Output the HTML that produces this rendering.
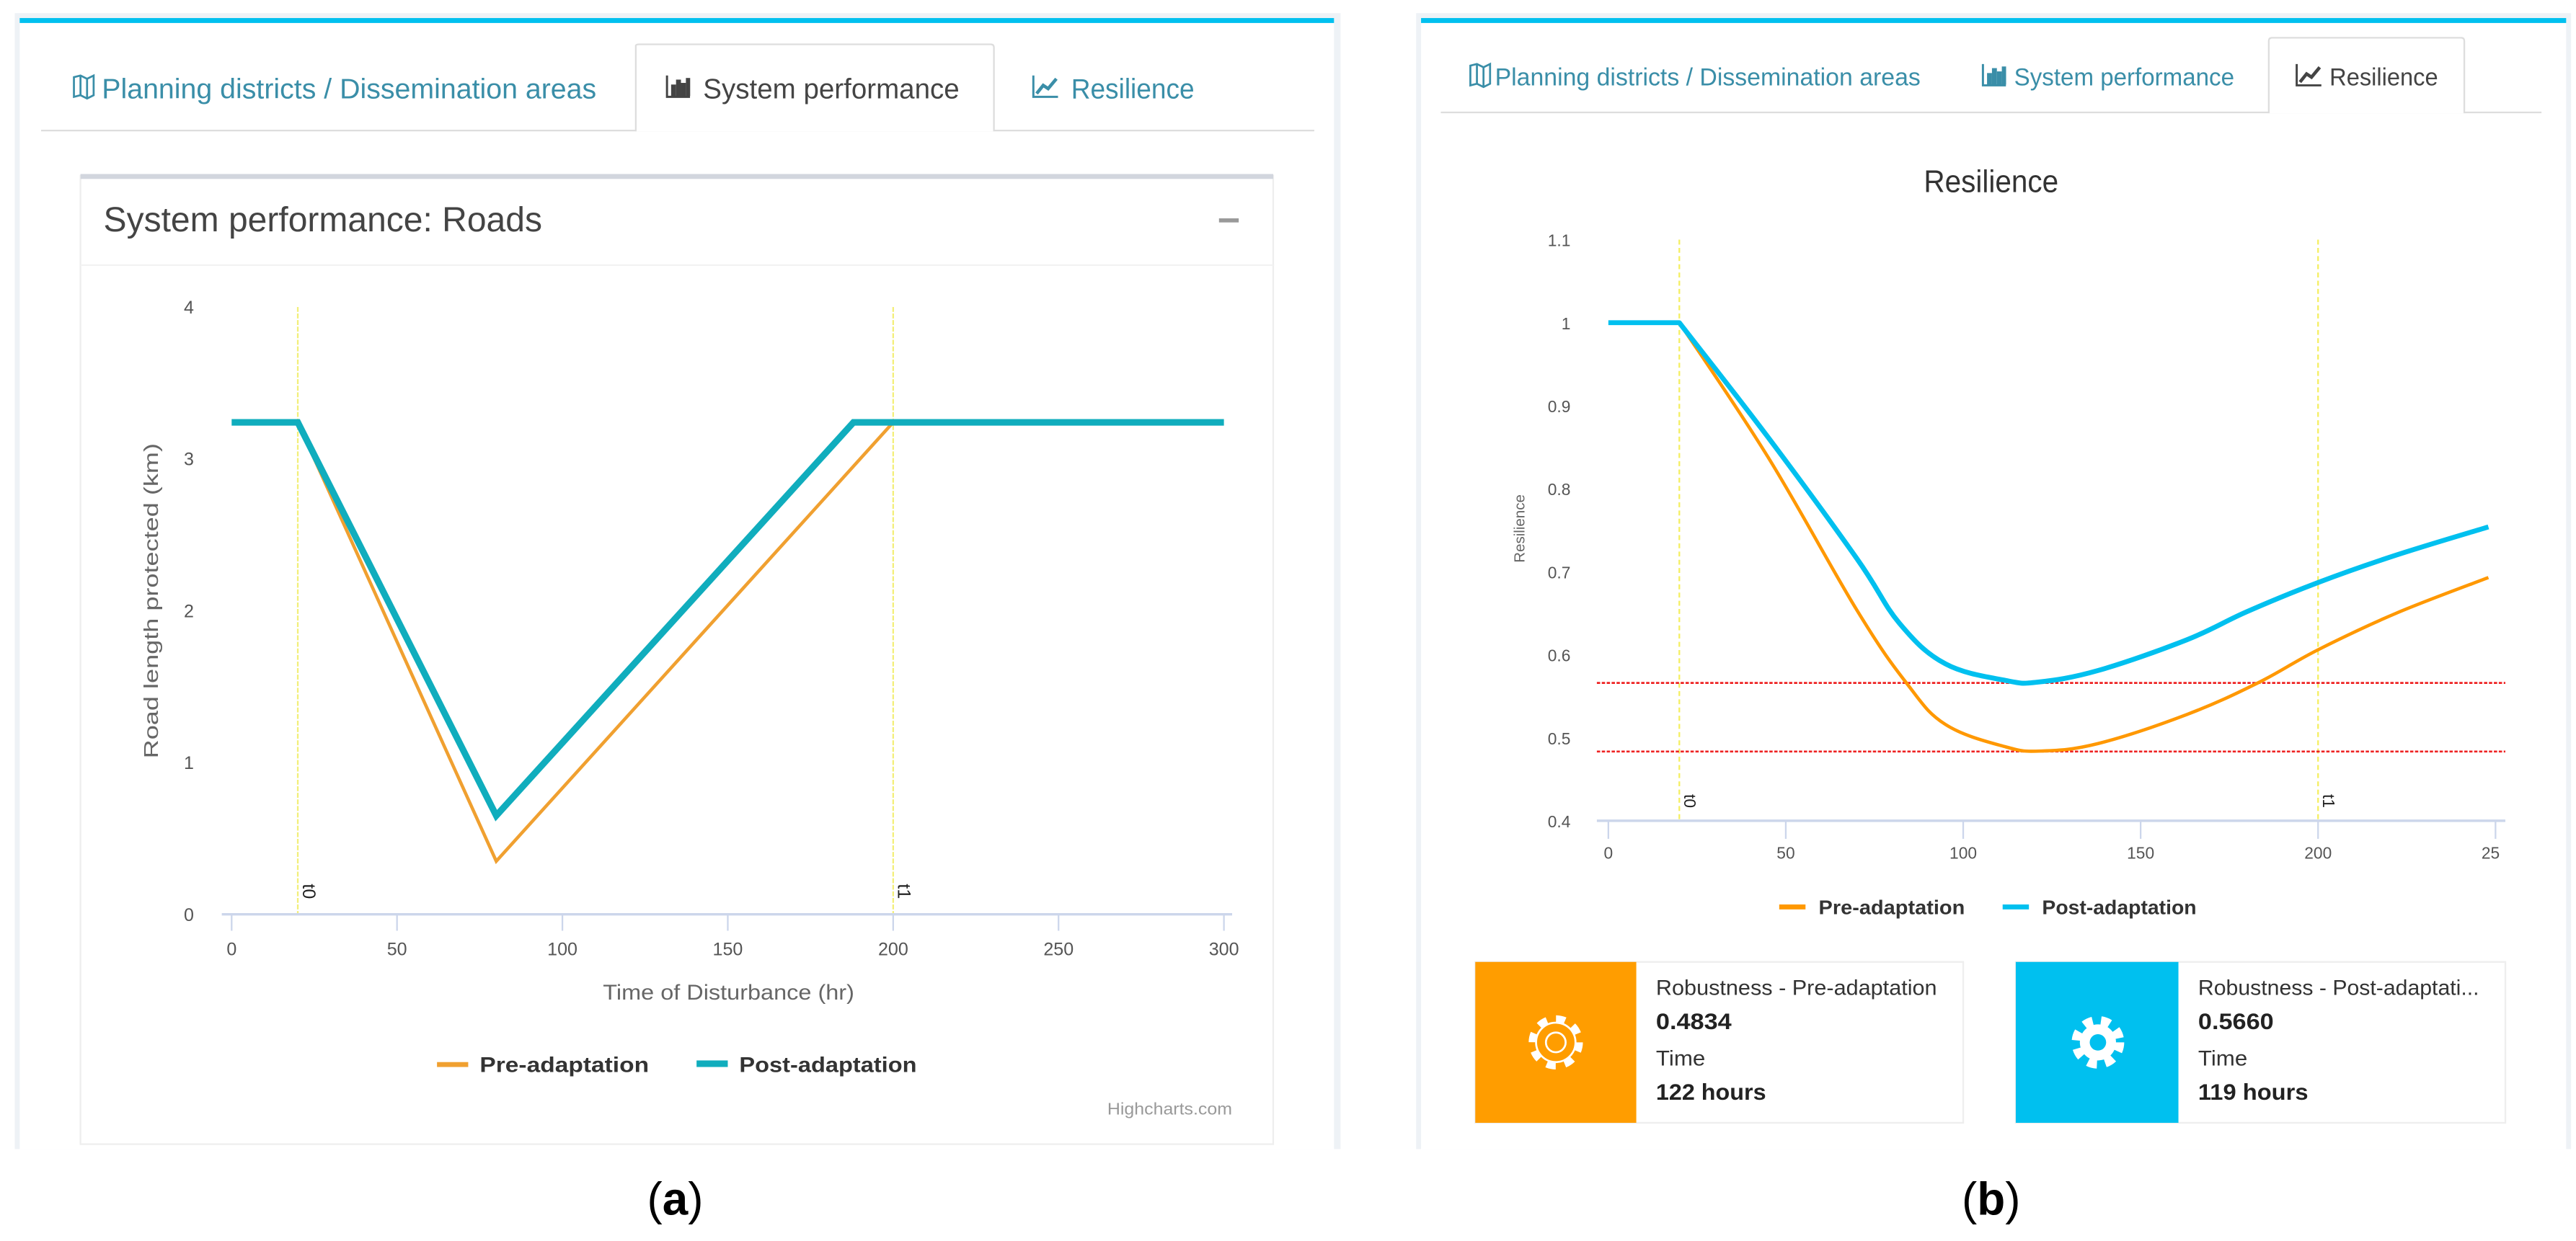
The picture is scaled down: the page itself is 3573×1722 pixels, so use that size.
<!DOCTYPE html>
<html><head><meta charset="utf-8">
<style>
html,body{margin:0;padding:0;background:#fff;}
svg{display:block;}
text{font-family:"Liberation Sans",sans-serif;}
</style></head>
<body>
<svg id="root" width="3573" height="1722" viewBox="0 0 1568 756" preserveAspectRatio="none" xmlns="http://www.w3.org/2000/svg">
  <defs>
    <g id="icoMap"><path d="M0 1 L4 0 L8 2 L12 0 V12 L8 14 L4 12 L0 13 Z M4 0 V12 M8 2 V14" fill="none" stroke-width="1.2"/></g>
    <g id="icoBar"><path d="M0 0 V13 H14" fill="none" stroke-width="1.3"/><rect x="3" y="6" width="2" height="6"/><rect x="6" y="3" width="2" height="9"/><rect x="9" y="5" width="2" height="7"/><rect x="12" y="2" width="1.6" height="10"/></g>
    <g id="icoLine"><path d="M0 0 V13 H15" fill="none" stroke-width="1.3"/><path d="M2 11 L6 6 L9 8 L14 2" fill="none" stroke-width="2"/></g>
  </defs>
  <rect x="0" y="0" width="1568" height="756" fill="#fff"/>
  <!-- Left panel -->
  <g>
    <rect x="9" y="8" width="807" height="692" fill="#eef2f6"/>
    <rect x="12" y="14" width="800" height="686" fill="#fff"/>
    <rect x="12" y="11" width="800" height="3" fill="#00c0ef"/>
    <line x1="25" y1="79.5" x2="800" y2="79.5" stroke="#ddd"/>
    <path d="M387 80 V28 Q387 27 389 27 H603 Q605 27 605 29 V80" fill="#fff" stroke="#ddd"/>
    <g>
      <use href="#icoMap" x="45" y="46" stroke="#3a8ea8" fill="#3a8ea8"/>
      <text x="62" y="60" font-size="17" fill="#3a8ea8" textLength="301" lengthAdjust="spacingAndGlyphs">Planning districts / Dissemination areas</text>
    </g>
    <g>
      <use href="#icoBar" x="406" y="46" stroke="#444" fill="#444"/>
      <text x="428" y="60" font-size="17" fill="#444" textLength="156" lengthAdjust="spacingAndGlyphs">System performance</text>
    </g>
    <g>
      <use href="#icoLine" x="629" y="46" stroke="#3a8ea8" fill="#3a8ea8"/>
      <text x="652" y="60" font-size="17" fill="#3a8ea8" textLength="75" lengthAdjust="spacingAndGlyphs">Resilience</text>
    </g>
    <rect x="49" y="107" width="726" height="590" fill="#fff" stroke="#eee"/>
    <rect x="49" y="106" width="726" height="3" fill="#d2d6de"/>
    <text x="63" y="141" font-size="21" fill="#444" textLength="267" lengthAdjust="spacingAndGlyphs">System performance: Roads</text>
    <rect x="742" y="133" width="12" height="2.5" fill="#999"/>
    <line x1="49" y1="161.5" x2="775" y2="161.5" stroke="#f2f2f2"/>
    <g id="chartA"></g>
  </g>
  <!-- Right panel -->
  <g>
    <rect x="862" y="8" width="703" height="692" fill="#eef2f6"/>
    <rect x="865" y="14" width="697" height="686" fill="#fff"/>
    <rect x="865" y="11" width="697" height="3" fill="#00c0ef"/>
    <line x1="877" y1="68.5" x2="1547" y2="68.5" stroke="#ddd"/>
    <path d="M1381 69 V25 Q1381 23 1383 23 H1498 Q1500 23 1500 25 V69" fill="#fff" stroke="#ddd"/>
    <g>
      <use href="#icoMap" x="895" y="39" stroke="#3a8ea8" fill="#3a8ea8"/>
      <text x="910" y="52" font-size="15" fill="#3a8ea8" textLength="259" lengthAdjust="spacingAndGlyphs">Planning districts / Dissemination areas</text>
    </g>
    <g>
      <use href="#icoBar" x="1207" y="39" stroke="#3a8ea8" fill="#3a8ea8"/>
      <text x="1226" y="52" font-size="15" fill="#3a8ea8" textLength="134" lengthAdjust="spacingAndGlyphs">System performance</text>
    </g>
    <g>
      <use href="#icoLine" x="1398" y="39" stroke="#444" fill="#444"/>
      <text x="1418" y="52" font-size="15" fill="#444" textLength="66" lengthAdjust="spacingAndGlyphs">Resilience</text>
    </g>
    <text x="1171" y="117" font-size="19" fill="#333" textLength="82" lengthAdjust="spacingAndGlyphs">Resilience</text>
    <g id="chartB"></g>
    <g>
      <rect x="898" y="586" width="297" height="98" fill="#fff" stroke="#eee"/>
      <rect x="898" y="586" width="98" height="98" fill="#ff9d00"/>
      <circle cx="947" cy="635" r="14" fill="none" stroke="#fff" stroke-width="5" stroke-dasharray="5.5 5.5"/>
      <circle cx="947" cy="635" r="12" fill="#ff9d00" stroke="#fff" stroke-width="1.2"/>
      <circle cx="947" cy="635" r="6" fill="none" stroke="#fff" stroke-width="1.2"/>
      <text x="1008" y="606" font-size="13" fill="#333" textLength="171" lengthAdjust="spacingAndGlyphs">Robustness - Pre-adaptation</text>
      <text x="1008" y="627" font-size="14" font-weight="bold" fill="#222" textLength="46" lengthAdjust="spacingAndGlyphs">0.4834</text>
      <text x="1008" y="649" font-size="13" fill="#333" textLength="30" lengthAdjust="spacingAndGlyphs">Time</text>
      <text x="1008" y="670" font-size="14" font-weight="bold" fill="#222" textLength="67" lengthAdjust="spacingAndGlyphs">122 hours</text>
    </g>
    <g>
      <rect x="1227" y="586" width="298" height="98" fill="#fff" stroke="#eee"/>
      <rect x="1227" y="586" width="99" height="98" fill="#00c0ef"/>
      <circle cx="1277" cy="635" r="13" fill="none" stroke="#fff" stroke-width="6" stroke-dasharray="5.5 5"/>
      <circle cx="1277" cy="635" r="11" fill="#fff"/>
      <circle cx="1277" cy="635" r="5" fill="#00c0ef"/>
      <text x="1338" y="606" font-size="13" fill="#333" textLength="171" lengthAdjust="spacingAndGlyphs">Robustness - Post-adaptati...</text>
      <text x="1338" y="627" font-size="14" font-weight="bold" fill="#222" textLength="46" lengthAdjust="spacingAndGlyphs">0.5660</text>
      <text x="1338" y="649" font-size="13" fill="#333" textLength="30" lengthAdjust="spacingAndGlyphs">Time</text>
      <text x="1338" y="670" font-size="14" font-weight="bold" fill="#222" textLength="67" lengthAdjust="spacingAndGlyphs">119 hours</text>
    </g>
  </g>
  <text x="411" y="740" font-size="28" text-anchor="middle" font-family="Liberation Serif" fill="#000">(<tspan font-weight="bold">a</tspan>)</text>
  <text x="1212" y="740" font-size="28" text-anchor="middle" font-family="Liberation Serif" fill="#000">(<tspan font-weight="bold">b</tspan>)</text>
</svg>
<script>
// Chart A data
const aPostX = [0, 20, 80, 188, 300];
const aPostY = [3.24, 3.24, 0.65, 3.24, 3.24];
const aPreX = [20, 80, 200];
const aPreY = [3.24, 0.35, 3.24];
const aXTicks = [0, 50, 100, 150, 200, 250, 300];
const aYTicks = [0, 1, 2, 3, 4];
const aMarkers = [20, 200];
const aMarkerLabels = ['t0', 't1'];
// Chart B data
const bPostX = [0, 20, 45, 70, 82, 95, 112, 121, 138, 163, 180, 200, 222, 248];
const bPostY = [1.0, 1.0, 0.862, 0.716, 0.638, 0.589, 0.569, 0.567, 0.581, 0.618, 0.652, 0.687, 0.72, 0.754];
const bPreX = [20, 45, 70, 84, 95, 112, 122, 138, 163, 183, 200, 222, 248];
const bPreY = [1.0, 0.838, 0.654, 0.566, 0.516, 0.489, 0.484, 0.493, 0.528, 0.566, 0.606, 0.65, 0.693];
const bXTicks = [0, 50, 100, 150, 200, 250];
const bYTicks = [0.4, 0.5, 0.6, 0.7, 0.8, 0.9, 1, 1.1];
const bThresholds = [0.566, 0.4834];
const bMarkers = [20, 200];
const bMarkerLabels = ['t0', 't1'];

const NS = 'http://www.w3.org/2000/svg';
function mk(parent, tag, attrs, txt) {
  const e = document.createElementNS(NS, tag);
  for (const k in attrs) e.setAttribute(k, attrs[k]);
  if (txt !== undefined) e.textContent = txt;
  parent.appendChild(e);
  return e;
}
function smoothPath(pts) {
  let d = 'M' + pts[0][0] + ' ' + pts[0][1];
  for (let i = 0; i < pts.length - 1; i++) {
    const p0 = pts[Math.max(0, i - 1)], p1 = pts[i], p2 = pts[i + 1], p3 = pts[Math.min(pts.length - 1, i + 2)];
    const t = 0.18;
    const c1x = p1[0] + (p2[0] - p0[0]) * t, c1y = p1[1] + (p2[1] - p0[1]) * t;
    const c2x = p2[0] - (p3[0] - p1[0]) * t, c2y = p2[1] - (p3[1] - p1[1]) * t;
    d += ' C' + c1x + ' ' + c1y + ' ' + c2x + ' ' + c2y + ' ' + p2[0] + ' ' + p2[1];
  }
  return d;
}

// ---- Chart A ----
(function () {
  const g = document.getElementById('chartA');
  const xA = v => 141 + (v / 300) * 604;
  const yA = v => 557 - (v / 4) * 370;
  aYTicks.forEach(t => {
    const e = mk(g, 'text', {x: 118, y: yA(t) + 4, 'font-size': 11, fill: '#555', 'text-anchor': 'end'}, String(t));
    
    
  });
  aMarkers.forEach((m, i) => {
    const l = mk(g, 'line', {x1: xA(m), x2: xA(m), y1: 187, y2: 557, stroke: '#f3ef7a', 'stroke-width': 1, 'stroke-dasharray': '3,1'});
    
    
    const t = mk(g, 'text', {x: 0, y: 0, 'font-size': 11, fill: '#222', transform: `translate(${xA(m) + 3},${543}) rotate(90)`, 'text-anchor': 'middle'}, aMarkerLabels[i]);
    
    
  });
  const ax = mk(g, 'line', {x1: 135, x2: 750, y1: 557, y2: 557, stroke: '#ccd6eb', 'stroke-width': 1.5});
  
  
  aXTicks.forEach(t => {
    mk(g, 'line', {x1: xA(t), x2: xA(t), y1: 557, y2: 567, stroke: '#ccd6eb'});
    const e = mk(g, 'text', {x: xA(t), y: 582, 'font-size': 11, fill: '#555', 'text-anchor': 'middle'}, String(t));
    
    
  });
  const xt = mk(g, 'text', {x: 367, y: 609, 'font-size': 13, fill: '#666', textLength: 153, lengthAdjust: 'spacingAndGlyphs'}, 'Time of Disturbance (hr)');
  
  
  const yt = mk(g, 'text', {x: 0, y: 0, 'font-size': 12, fill: '#666', textLength: 192, lengthAdjust: 'spacingAndGlyphs', transform: 'translate(96,462) rotate(-90)'}, 'Road length protected (km)');
  
  
  const pre = mk(g, 'polyline', {points: aPreX.map((x, i) => xA(x) + ',' + yA(aPreY[i])).join(' '), fill: 'none', stroke: '#f0a030', 'stroke-width': 2});
  
  
  const post = mk(g, 'polyline', {points: aPostX.map((x, i) => xA(x) + ',' + yA(aPostY[i])).join(' '), fill: 'none', stroke: '#10adbd', 'stroke-width': 4});
  
  
  mk(g, 'rect', {x: 266, y: 647, width: 19, height: 3, fill: '#f0a030'});
  const l1 = mk(g, 'text', {x: 292, y: 653, 'font-size': 13, 'font-weight': 'bold', fill: '#333', textLength: 103, lengthAdjust: 'spacingAndGlyphs'}, 'Pre-adaptation');
  
  
  mk(g, 'rect', {x: 424, y: 646, width: 19, height: 4, fill: '#10adbd'});
  const l2 = mk(g, 'text', {x: 450, y: 653, 'font-size': 13, 'font-weight': 'bold', fill: '#333', textLength: 108, lengthAdjust: 'spacingAndGlyphs'}, 'Post-adaptation');
  
  
  const hc = mk(g, 'text', {x: 674, y: 679, 'font-size': 10, fill: '#999', textLength: 76, lengthAdjust: 'spacingAndGlyphs'}, 'Highcharts.com');
  
  
})();

// ---- Chart B ----
(function () {
  const g = document.getElementById('chartB');
  const xB = v => 979 + (v / 250) * 540;
  const yB = v => 500 - ((v - 0.4) / 0.7) * 354;
  bYTicks.forEach(t => {
    const e = mk(g, 'text', {x: 956, y: yB(t) + 4, 'font-size': 10, fill: '#555', 'text-anchor': 'end'}, String(t));
    
    
  });
  bMarkers.forEach((m, i) => {
    const l = mk(g, 'line', {x1: xB(m), x2: xB(m), y1: 146, y2: 500, stroke: '#f5ef60', 'stroke-width': 1, 'stroke-dasharray': '3,2'});
    
    
    const t = mk(g, 'text', {x: 0, y: 0, 'font-size': 10, fill: '#222', transform: `translate(${xB(m) + 3},${488}) rotate(90)`, 'text-anchor': 'middle'}, bMarkerLabels[i]);
    
    
  });
  bThresholds.forEach(v => {
    const l = mk(g, 'line', {x1: 972, x2: 1525, y1: yB(v), y2: yB(v), stroke: '#ee2222', 'stroke-width': 1.2, 'stroke-dasharray': '2,1'});
    
    
  });
  const ax = mk(g, 'line', {x1: 972, x2: 1525, y1: 500, y2: 500, stroke: '#ccd6eb', 'stroke-width': 1.5});
  
  
  bXTicks.forEach(t => {
    mk(g, 'line', {x1: xB(t), x2: xB(t), y1: 500, y2: 511, stroke: '#ccd6eb'});
    const e = mk(g, 'text', {x: Math.min(xB(t), 1516), y: 523, 'font-size': 10, fill: '#555', 'text-anchor': 'middle'}, t === 250 ? '25' : String(t));
    
    
  });
  const yt = mk(g, 'text', {x: 0, y: 0, 'font-size': 9, fill: '#666', 'text-anchor': 'middle', transform: 'translate(928,322) rotate(-90)'}, 'Resilience');
  
  
  const pre = mk(g, 'path', {d: smoothPath(bPreX.map((x, i) => [xB(x), yB(bPreY[i])])), fill: 'none', stroke: '#ff9800', 'stroke-width': 2, 'stroke-linejoin': 'round'});
  
  
  const postPts = bPostX.map((x, i) => [xB(x), yB(bPostY[i])]);
  const post = mk(g, 'path', {d: 'M' + postPts[0][0] + ' ' + postPts[0][1] + ' L' + smoothPath(postPts.slice(1)).slice(1), fill: 'none', stroke: '#00c0ef', 'stroke-width': 3, 'stroke-linejoin': 'round'});
  
  
  mk(g, 'rect', {x: 1083, y: 551, width: 16, height: 3, fill: '#ff9800'});
  const l1 = mk(g, 'text', {x: 1107, y: 557, 'font-size': 12, 'font-weight': 'bold', fill: '#333', textLength: 89, lengthAdjust: 'spacingAndGlyphs'}, 'Pre-adaptation');
  
  
  mk(g, 'rect', {x: 1219, y: 551, width: 16, height: 3, fill: '#00c0ef'});
  const l2 = mk(g, 'text', {x: 1243, y: 557, 'font-size': 12, 'font-weight': 'bold', fill: '#333', textLength: 94, lengthAdjust: 'spacingAndGlyphs'}, 'Post-adaptation');
  
  
})();
</script>
</body></html>
